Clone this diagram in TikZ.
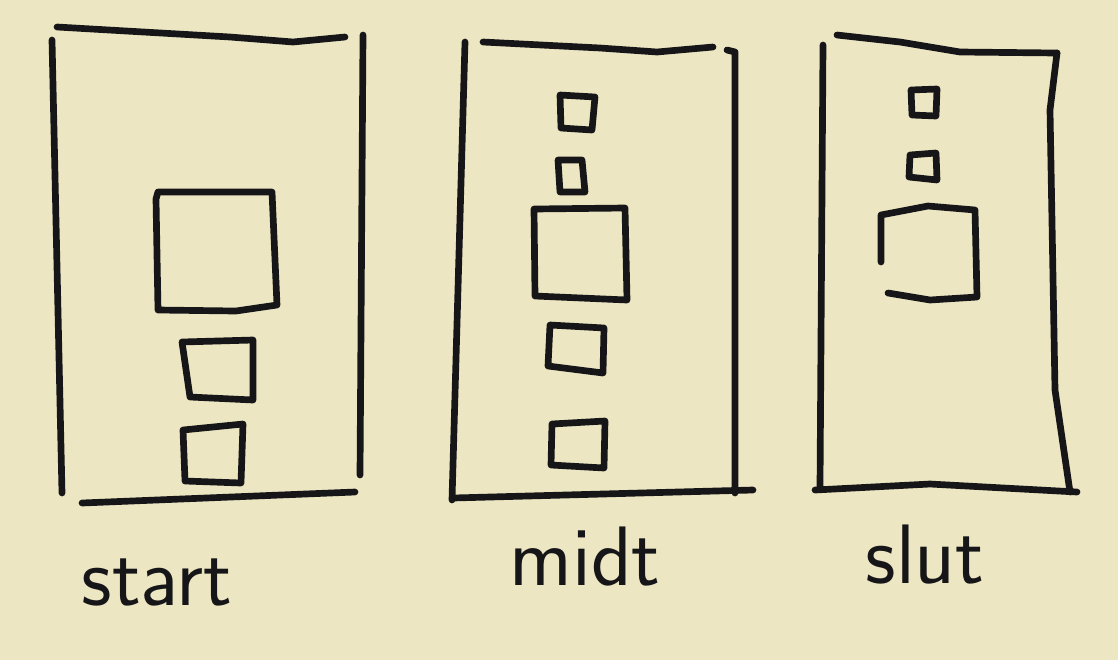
\documentclass[tikz,border=0pt]{standalone}
\usepackage{tikz}
\definecolor{paper}{RGB}{236,230,194}
\definecolor{ink}{RGB}{22,22,24}

\begin{document}
\begin{tikzpicture}[x=0.01cm,y=-0.01cm,every path/.style={join=round,cap=round},
    pen/.style={draw=ink,line width=1.9pt},
    lbl/.style={text=ink,font=\sffamily\fontsize{24}{28}\selectfont,anchor=base}]
    \fill[paper] (0,0) rectangle (1118,660);
    \useasboundingbox (0,0) rectangle (1118,660);
    % start
    \draw[pen] (57,27) -- (230,37) -- (293,42) -- (345,37);
    \draw[pen] (52,40) -- (62,493);
    \draw[pen] (363,35) -- (360,475);
    \draw[pen] (82,503) -- (355,492);
    \draw[pen] (156,199) -- (158,192) -- (272,192) -- (277,305) -- (236,311) -- (158,310) -- cycle;
    \draw[pen] (182,342) -- (253,340) -- (253,400) -- (190,397) -- cycle;
    \draw[pen] (183,430) -- (243,424) -- (241,483) -- (185,481) -- cycle;
    % midt
    \draw[pen] (465,42) -- (452,500);
    \draw[pen] (483,42) -- (600,48) -- (657,52) -- (713,47);
    \draw[pen] (727,50) -- (735,52) -- (735,493);
    \draw[pen] (453,498) -- (753,490);
    \draw[pen] (560,95) -- (595,97) -- (592,130) -- (561,128) -- cycle;
    \draw[pen] (558,160) -- (582,160) -- (585,192) -- (560,192) -- cycle;
    \draw[pen] (534,209) -- (625,208) -- (627,300) -- (535,296) -- cycle;
    \draw[pen] (550,325) -- (604,328) -- (603,373) -- (548,366) -- cycle;
    \draw[pen] (552,424) -- (605,421) -- (604,468) -- (551,465) -- cycle;
    % slut
    \draw[pen] (823,45) -- (820,487);
    \draw[pen] (837,35) -- (900,42) -- (960,52) -- (1057,53);
    \draw[pen] (1057,53) -- (1050,110) -- (1055,390) -- (1070,492);
    \draw[pen] (815,490) -- (930,484) -- (1077,492);
    \draw[pen] (911,90) -- (937,89) -- (936,116) -- (912,115) -- cycle;
    \draw[pen] (910,155) -- (936,153) -- (937,180) -- (909,177) -- cycle;
    \draw[pen] (881,262) -- (881,215) -- (928,206) -- (975,210) -- (977,297) -- (930,300) -- (888,293);
    % labels
    \node[lbl] (start) at (157,605) {start};
    \node[lbl] (midt) at (585,585) {midt};
    \node[lbl] (slut) at (925,583) {slut};
\end{tikzpicture}
\end{document}
